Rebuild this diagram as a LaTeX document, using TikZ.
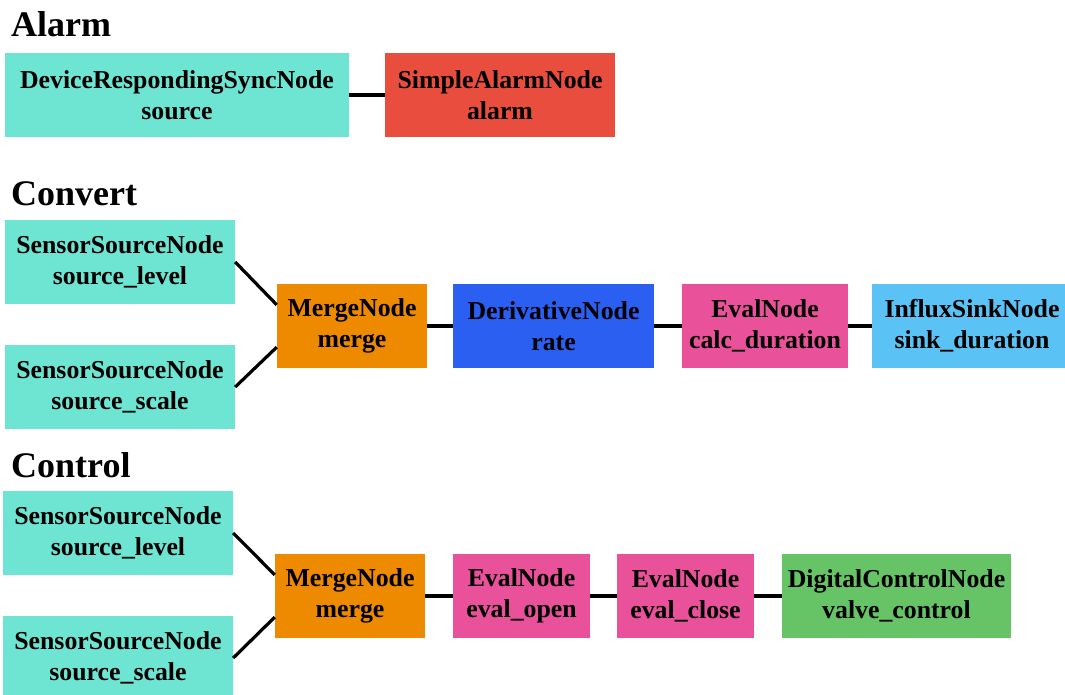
\documentclass[tikz,border=0pt]{standalone}
\usepackage{fontspec}
\setmainfont{Liberation Serif}
\usetikzlibrary{calc}
\definecolor{cteal}{HTML}{6EE5D2}
\definecolor{cred}{HTML}{E84D3D}
\definecolor{corange}{HTML}{EE8A00}
\definecolor{cblue}{HTML}{2B5FF2}
\definecolor{cpink}{HTML}{E9529B}
\definecolor{clblue}{HTML}{5AC2F5}
\definecolor{cgreen}{HTML}{66C466}
\tikzset{
  box/.style={rectangle, inner sep=0pt, minimum height=84pt, align=center,
    font=\fontsize{25.8}{31}\selectfont\bfseries, text=black},
  title/.style={anchor=base west, inner sep=0pt, font=\fontsize{36}{40}\selectfont\bfseries},
  link/.style={line width=3.2pt, black},
}
\begin{document}
\begin{tikzpicture}[x=1pt, y=-1pt]
\useasboundingbox[fill=white] (0,0) rectangle (1065,695);
% Alarm
\node[title] (tA) at (11,37) {Alarm};
\node[box, fill=cteal, minimum width=344pt] (dev) at (177,95) {DeviceRespondingSyncNode\\source};
\node[box, fill=cred, minimum width=230pt] (alm) at (500,95) {SimpleAlarmNode\\alarm};
\draw[link] (dev.east) -- (alm.west);
% Convert
\node[title] (tB) at (11,206) {Convert};
\node[box, fill=cteal, minimum width=230pt] (cl) at (120,262) {SensorSourceNode\\source\_level};
\node[box, fill=cteal, minimum width=230pt] (cs) at (120,387) {SensorSourceNode\\source\_scale};
\node[box, fill=corange, minimum width=150pt] (cm) at (352,326) {MergeNode\\merge};
\node[box, fill=cblue, minimum width=201pt] (cd) at (553.5,326) {DerivativeNode\\rate};
\node[box, fill=cpink, minimum width=166pt] (ce) at (765,326) {EvalNode\\calc\_duration};
\node[box, fill=clblue, minimum width=200pt] (ci) at (972,326) {InfluxSinkNode\\sink\_duration};
\draw[link] (cl.east) -- ($(cm.north west)!0.25!(cm.south west)$);
\draw[link] (cs.east) -- ($(cm.north west)!0.75!(cm.south west)$);
\draw[link] (cm.east) -- (cd.west);
\draw[link] (cd.east) -- (ce.west);
\draw[link] (ce.east) -- (ci.west);
% Control
\node[title] (tC) at (11,477) {Control};
\node[box, fill=cteal, minimum width=230pt] (kl) at (118,533) {SensorSourceNode\\source\_level};
\node[box, fill=cteal, minimum width=230pt] (ks) at (118,658) {SensorSourceNode\\source\_scale};
\node[box, fill=corange, minimum width=150pt] (km) at (350,596) {MergeNode\\merge};
\node[box, fill=cpink, minimum width=137pt] (ko) at (521.5,596) {EvalNode\\eval\_open};
\node[box, fill=cpink, minimum width=137pt] (kc) at (685.5,596) {EvalNode\\eval\_close};
\node[box, fill=cgreen, minimum width=229pt] (kd) at (896.5,596) {DigitalControlNode\\valve\_control};
\draw[link] (kl.east) -- ($(km.north west)!0.25!(km.south west)$);
\draw[link] (ks.east) -- ($(km.north west)!0.75!(km.south west)$);
\draw[link] (km.east) -- (ko.west);
\draw[link] (ko.east) -- (kc.west);
\draw[link] (kc.east) -- (kd.west);
\end{tikzpicture}
\end{document}
